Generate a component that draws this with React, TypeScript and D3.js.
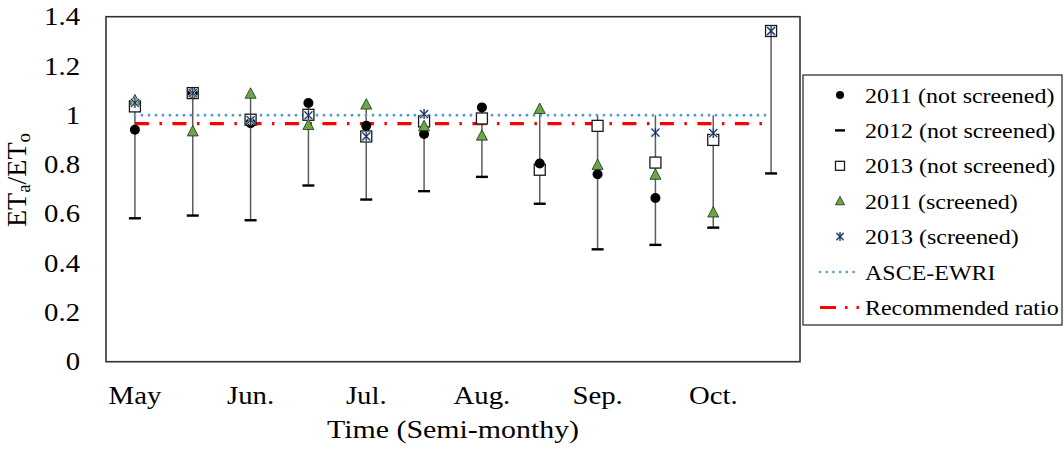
import React from "react";
import * as d3 from "d3";

const periods = ["May-1", "May-2", "Jun-1", "Jun-2", "Jul-1", "Jul-2", "Aug-1", "Aug-2", "Sep-1", "Sep-2", "Oct-1", "Oct-2"];
const monthLabels = ["May", "", "Jun.", "", "Jul.", "", "Aug.", "", "Sep.", "", "Oct.", ""];
const yTicks = [0, 0.2, 0.4, 0.6, 0.8, 1, 1.2, 1.4];

const ns2011: (number | null)[] = [0.941, 1.09, 0.968, 1.05, 0.957, 0.924, 1.032, 0.804, 0.761, 0.664, null, null];
const ns2012: (number | null)[] = [0.582, 0.593, 0.574, 0.715, 0.658, 0.692, 0.75, 0.641, 0.456, 0.474, 0.544, 0.764];
const ns2013: (number | null)[] = [1.036, 1.09, 0.982, 1.002, 0.914, 0.975, 0.987, 0.779, 0.957, 0.808, 0.9, 1.342];
const s2011: (number | null)[] = [1.06, 0.934, 1.087, 0.96, 1.043, 0.955, 0.917, 1.025, 0.798, 0.758, 0.605, null];
const s2013: (number | null)[] = [1.05, 1.09, 0.98, 1.0, 0.914, 1.005, null, null, null, 0.93, 0.928, 1.342];
const asceEwri = 1.0;
const recommendedRatio = 0.966;

const legendItems = [
  "2011 (not screened)",
  "2012 (not screened)",
  "2013 (not screened)",
  "2011 (screened)",
  "2013 (screened)",
  "ASCE-EWRI",
  "Recommended ratio",
];

const FONT = "'Liberation Serif', 'Times New Roman', serif";

const Circle = ({ x, y, r = 5 }: any) => <circle cx={x} cy={y} r={r} fill="#000" />;
const Dash = ({ x, y, w = 12 }: any) => (
  <line x1={x - w / 2} x2={x + w / 2} y1={y} y2={y} stroke="#000" strokeWidth={2.4} />
);
const Box = ({ x, y, s = 11 }: any) => (
  <rect x={x - s / 2} y={y - s / 2} width={s} height={s} fill="#fff" stroke="#1a1a1a" strokeWidth={1.3} />
);
const Tri = ({ x, y, s = 11 }: any) => (
  <path
    d={`M${x},${y - s * 0.55} L${x + s / 2},${y + s * 0.4} L${x - s / 2},${y + s * 0.4} Z`}
    fill="#6aa64a"
    stroke="#1e3010"
    strokeWidth={0.8}
  />
);
const Star = ({ x, y, s = 10 }: any) => {
  const h = s / 2;
  const d = `M${x - h * 0.8},${y - h * 0.8} L${x + h * 0.8},${y + h * 0.8} M${x + h * 0.8},${y - h * 0.8} L${x - h * 0.8},${y + h * 0.8} M${x},${y - h} L${x},${y + h}`;
  return (
    <g>
      <path d={d} stroke="#bdd7ee" strokeWidth={2.4} fill="none" />
      <path d={d} stroke="#1f2d4d" strokeWidth={1.1} fill="none" />
    </g>
  );
};

export default function App() {
  const left = 106,
    right = 800,
    top = 16.7,
    bottom = 361.7;
  const x = d3.scaleBand<number>().domain(periods.map((_, i) => i)).range([left, right]);
  const cx = (i: number) => (x(i) as number) + x.bandwidth() / 2;
  const y = d3.scaleLinear().domain([0, 1.4]).range([bottom, top]);

  const allSeries = [ns2011, ns2012, ns2013, s2011, s2013];
  const hiLo = periods.map((_, i) => {
    const vals = allSeries.map((s) => s[i]).filter((v) => v != null) as number[];
    vals.push(asceEwri);
    return { i, hi: d3.max(vals)!, lo: d3.min(vals)! };
  });

  const pts = (arr: (number | null)[]) =>
    arr.map((v, i) => ({ v, i })).filter((d) => d.v != null) as { v: number; i: number }[];

  const lineX0 = cx(0);
  const lineX1 = cx(periods.length - 1);

  const legX = 803,
    legY = 75,
    legW = 259,
    legH = 250;
  const rowY = (k: number) => 95 + k * 35.4;
  const mX = 840;

  return (
    <svg
      width={1064}
      height={451}
      style={{ position: "absolute", left: 0, top: 0, background: "#fff" }}
      fontFamily={FONT}
    >
      <rect x={0} y={0} width={1064} height={451} fill="#fff" />
      {hiLo.map((d) => (
        <line key={"hl" + d.i} x1={cx(d.i)} x2={cx(d.i)} y1={y(d.hi)} y2={y(d.lo)} stroke="#5e5e5e" strokeWidth={1.5} />
      ))}
      <line
        x1={lineX0}
        x2={lineX1}
        y1={y(asceEwri)}
        y2={y(asceEwri)}
        stroke="#5b9bd5"
        strokeWidth={2.8}
        strokeDasharray="0.1 6.9"
        strokeLinecap="round"
      />
      <line
        x1={lineX0}
        x2={lineX1}
        y1={y(recommendedRatio)}
        y2={y(recommendedRatio)}
        stroke="#ff0000"
        strokeWidth={3.4}
        strokeDasharray="14 10.5 2.5 10.5"
      />
      {pts(ns2012).map((d) => (
        <Dash key={"d" + d.i} x={cx(d.i)} y={y(d.v)} />
      ))}
      {pts(ns2013).map((d) => (
        <Box key={"b" + d.i} x={cx(d.i)} y={y(d.v)} />
      ))}
      {pts(ns2011).map((d) => (
        <Circle key={"c" + d.i} x={cx(d.i)} y={y(d.v)} />
      ))}
      {pts(s2011).map((d) => (
        <Tri key={"t" + d.i} x={cx(d.i)} y={y(d.v)} />
      ))}
      {pts(s2013).map((d) => (
        <Star key={"s" + d.i} x={cx(d.i)} y={y(d.v)} />
      ))}
      <rect x={left} y={top} width={right - left} height={bottom - top} fill="none" stroke="#333" strokeWidth={1.6} />
      {yTicks.map((t) => (
        <text
          key={"yt" + t}
          transform={`translate(80,${y(t) + 8.6}) scale(1.15,1)`}
          textAnchor="end"
          fontSize={25}
          fill="#000"
        >
          {String(+t.toFixed(1))}
        </text>
      ))}
      {monthLabels.map((m, i) =>
        m ? (
          <text key={"xl" + i} transform={`translate(${cx(i)},404) scale(1.15,1)`} textAnchor="middle" fontSize={25} fill="#000">
            {m}
          </text>
        ) : null
      )}
      <text transform={`translate(${(left + right) / 2},438) scale(1.15,1)`} textAnchor="middle" fontSize={26} fill="#000">
        Time (Semi-monthy)
      </text>
      <text transform={`translate(26,180) rotate(-90)`} textAnchor="middle" fontSize={28} fill="#000">
        ET
        <tspan fontSize={19} dy={4}>a</tspan>
        <tspan dy={-4}>/ET</tspan>
        <tspan fontSize={19} dy={4}>o</tspan>
      </text>
      <rect x={legX} y={legY} width={legW} height={legH} fill="#fff" stroke="#333" strokeWidth={1.3} />
      <Circle x={mX} y={rowY(0)} r={4} />
      <Dash x={mX} y={rowY(1)} w={10} />
      <Box x={mX} y={rowY(2)} s={9} />
      <Tri x={mX} y={rowY(3)} s={9} />
      <Star x={mX} y={rowY(4)} s={9} />
      <line x1={820} x2={860} y1={rowY(5)} y2={rowY(5)} stroke="#5b9bd5" strokeWidth={2.6} strokeDasharray="0.1 6.6" strokeLinecap="round" />
      <line x1={820} x2={862} y1={rowY(6)} y2={rowY(6)} stroke="#ff0000" strokeWidth={3} strokeDasharray="16 9 2.5 9 2.5 9" />
      {legendItems.map((t, k) => (
        <text key={"lg" + k} transform={`translate(865,${rowY(k) + 7.5}) scale(1.09,1)`} fontSize={22} fill="#000">
          {t}
        </text>
      ))}
    </svg>
  );
}
